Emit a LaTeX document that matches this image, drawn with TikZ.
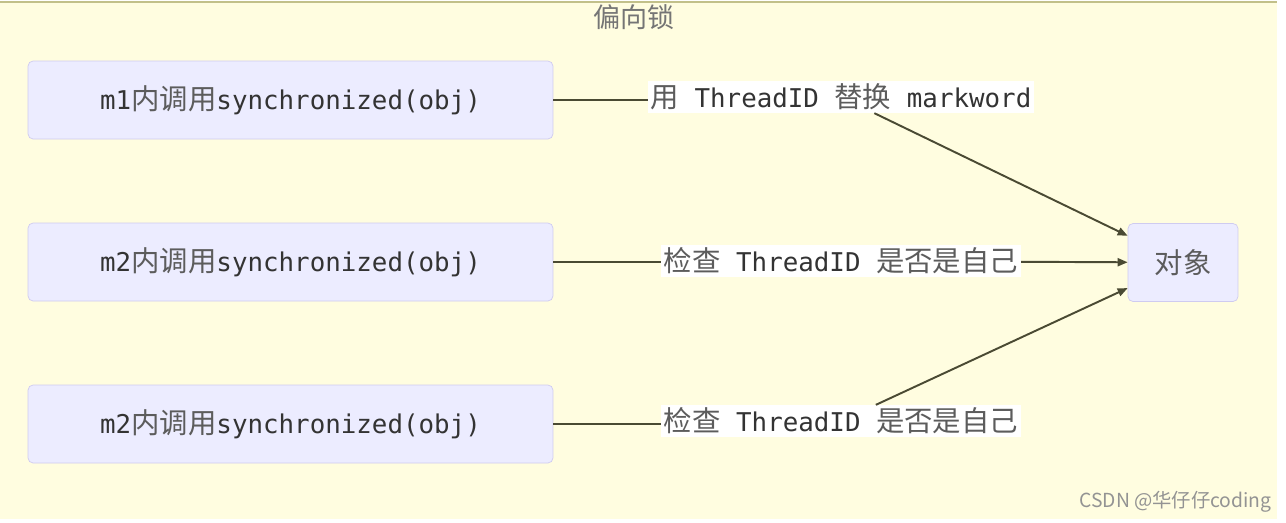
\documentclass[tikz,border=0pt]{standalone}
\usepackage{fontspec}
\usepackage{xcolor}
\usepackage{tikz}
\usetikzlibrary{arrows.meta, positioning}
\setmonofont{DejaVu Sans Mono}
\newfontfamily\cjk[Scale=1.1]{Noto Sans CJK SC}
\newfontfamily\markfont{Noto Sans CJK SC}
\definecolor{clusterfill}{HTML}{FFFDE0}
\definecolor{clusterline}{HTML}{C2C08A}
\definecolor{nodefill}{HTML}{ECECFF}
\definecolor{nodeline}{HTML}{CFCBF0}
\definecolor{edgecolor}{HTML}{4A4A33}
\definecolor{textmain}{HTML}{333333}
\definecolor{zhgray}{HTML}{5C5C5C}
\newcommand{\zh}[1]{{\cjk\color{zhgray}#1}}
\tikzstyle{callbox} = [rectangle, rounded corners=0.1cm, draw=nodeline, fill=nodefill, minimum width=10.5cm, minimum height=1.56cm, text=textmain, font=\fontsize{14.7pt}{17pt}\selectfont\ttfamily]
\tikzstyle{objbox} = [callbox, minimum width=2.2cm]
\tikzstyle{edgelabel} = [fill=white, inner sep=1.5pt, text=textmain, font=\fontsize{14.7pt}{17pt}\selectfont\ttfamily]
\tikzstyle{line} = [line width=1.1pt, color=edgecolor]
\tikzstyle{arrow} = [line, -{Triangle[length=0.2cm, width=0.16cm]}]

\begin{document}
\begin{tikzpicture}[x=0.02cm, y=-0.02cm]
    \useasboundingbox (0,0) rectangle (1286,522);
    \fill[clusterfill] (0,2) rectangle (1277,519);
    \draw[clusterline, line width=1pt] (0,2) -- (1277,2);
    \node[font=\fontsize{14pt}{16pt}\selectfont\cjk, text=zhgray!85] (title) at (634,17) {偏向锁};

    \node[callbox] (m1) at (290.5,100) {m1\zh{内调用}synchronized(obj)};
    \node[callbox] (m2) at (290.5,262) {m2\zh{内调用}synchronized(obj)};
    \node[callbox] (m3) at (290.5,424) {m2\zh{内调用}synchronized(obj)};
    \node[objbox] (obj) at (1183,262.5) {\zh{对象}};

    \node[edgelabel] (l1) at (841,97) {\zh{用} ThreadID \zh{替换} markword};
    \node[edgelabel] (l2) at (841,261) {\zh{检查} ThreadID \zh{是否是自己}};
    \node[edgelabel] (l3) at (841,421) {\zh{检查} ThreadID \zh{是否是自己}};

    \draw[line] (m1.east) -- (m1.east -| l1.west);
    \draw[line] (m2.east) -- (m2.east -| l2.west);
    \draw[line] (m3.east) -- (m3.east -| l3.west);
    \draw[arrow] (l1) -- (obj);
    \draw[arrow] (l2) -- (obj);
    \draw[arrow] (l3) -- (obj);

    \node[font=\fontsize{11pt}{13pt}\selectfont\markfont, text=gray!85, anchor=east, inner sep=0pt] (mark) at (1272,502) {CSDN @华仔仔coding};
\end{tikzpicture}
\end{document}
